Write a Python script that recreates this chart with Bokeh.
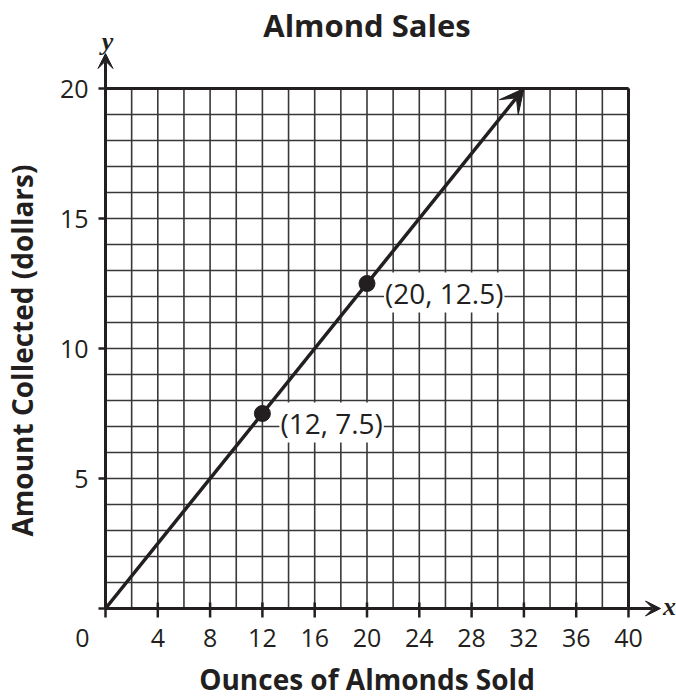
import math
from bokeh.plotting import figure
from bokeh.models import Range1d, Arrow, VeeHead, Label
from bokeh.core.properties import value
from bokeh.embed import file_html
from bokeh.resources import INLINE

# ---- data ----
title_text = "Almond Sales"
x_label = "Ounces of Almonds Sold"
y_label = "Amount Collected (dollars)"
x_ticks = [0, 4, 8, 12, 16, 20, 24, 28, 32, 36, 40]
y_ticks = [0, 5, 10, 15, 20]
grid_x = [0, 2, 4, 6, 8, 10, 12, 14, 16, 18, 20, 22, 24, 26, 28, 30, 32, 34, 36, 38, 40]
grid_y = [0, 1, 2, 3, 4, 5, 6, 7, 8, 9, 10, 11, 12, 13, 14, 15, 16, 17, 18, 19, 20]
line_x = [0, 32]
line_y = [0, 20]
points_x = [12, 20]
points_y = [7.5, 12.5]

INK = "#231f20"
GRID = "#383838"
FONT = "Open Sans"

# ---- layout (pixels) ----
W, H = 676, 696
G_LEFT, G_RIGHT, G_TOP, G_BOTTOM = 105, 628, 88, 608
X_TIP_PX = 660      # x-axis arrow tip
Y_TIP_PX = 53       # y-axis arrow tip

gx0, gx1 = grid_x[0], grid_x[-1]
gy0, gy1 = grid_y[0], grid_y[-1]
sx = (G_RIGHT - G_LEFT) / (gx1 - gx0)
sy = (G_BOTTOM - G_TOP) / (gy1 - gy0)

x_range = Range1d(gx0 - G_LEFT / sx, gx0 + (W - G_LEFT) / sx)
y_range = Range1d(gy0 - (H - G_BOTTOM) / sy, gy0 + G_BOTTOM / sy)

p = figure(width=W, height=H, x_range=x_range, y_range=y_range,
           x_axis_location=None, y_axis_location=None,
           output_backend="svg", toolbar_location=None,
           min_border=0)
p.title.visible = False
p.outline_line_color = None
p.grid.visible = False
p.background_fill_color = "white"
p.border_fill_color = "white"

# grid lines
p.segment(x0=grid_x, y0=[gy0] * len(grid_x), x1=grid_x, y1=[gy1] * len(grid_x),
          line_color=GRID, line_width=1.6)
p.segment(x0=[gx0] * len(grid_y), y0=grid_y, x1=[gx1] * len(grid_y), y1=grid_y,
          line_color=GRID, line_width=1.6)
# outer border of the grid (right and top)
p.segment(x0=[gx1, gx0], y0=[gy0, gy1], x1=[gx1, gx1], y1=[gy1, gy1],
          line_color=INK, line_width=3)

# axes with arrowheads
x_tip = gx0 + (X_TIP_PX - G_LEFT) / sx
y_tip = gy0 + (G_BOTTOM - Y_TIP_PX) / sy
p.add_layout(Arrow(end=VeeHead(size=15, fill_color=INK, line_color=INK, line_width=1),
                   x_start=gx0, y_start=gy0, x_end=x_tip, y_end=gy0,
                   line_color=INK, line_width=3))
p.add_layout(Arrow(end=VeeHead(size=15, fill_color=INK, line_color=INK, line_width=1),
                   x_start=gx0, y_start=gy0, x_end=gx0, y_end=y_tip,
                   line_color=INK, line_width=3))

# tick marks
X_TICK_IN, X_TICK_OUT = 6, 9
Y_TICK_IN, Y_TICK_OUT = 0, 7
p.segment(x0=x_ticks, y0=[gy0 - X_TICK_OUT / sy] * len(x_ticks),
          x1=x_ticks, y1=[gy0 + X_TICK_IN / sy] * len(x_ticks),
          line_color=INK, line_width=2.5)
p.segment(x0=[gx0 - Y_TICK_OUT / sx] * len(y_ticks), y0=y_ticks,
          x1=[gx0 + Y_TICK_IN / sx] * len(y_ticks), y1=y_ticks,
          line_color=INK, line_width=2.5)

# tick labels
p.text(x=x_ticks, y=[gy0] * len(x_ticks), text=[str(t) for t in x_ticks],
       x_offset=[-23 if t == 0 else 0 for t in x_ticks], y_offset=29,
       text_font=value(FONT), text_font_size=value("25px"), text_color=INK,
       text_align="center", text_baseline="middle")
y_lab = [t for t in y_ticks if t != 0]
p.text(x=[gx0] * len(y_lab), y=y_lab, text=[str(t) for t in y_lab],
       x_offset=-17, y_offset=0,
       text_font=value(FONT), text_font_size=value("25px"), text_color=INK,
       text_align="right", text_baseline="middle")

# the sales line
p.add_layout(Arrow(end=VeeHead(size=24, fill_color=INK, line_color=INK, line_width=1),
                   x_start=line_x[0], y_start=line_y[0], x_end=line_x[-1], y_end=line_y[-1],
                   line_color=INK, line_width=3.5))

p.scatter(points_x, points_y, size=16, color=INK)
for px, py in zip(points_x, points_y):
    p.add_layout(Label(x=px, y=py, text=f"({px:g}, {py:g})", x_offset=17, y_offset=-9,
                       text_font=FONT, text_font_size="28px", text_color=INK,
                       text_baseline="middle", text_align="left",
                       background_fill_color="white", padding=1))

# x and y letters
p.add_layout(Label(x=gx0, y=gy1, text="y", x_offset=2, y_offset=47,
                   text_font="Liberation Serif", text_font_style="bold italic",
                   text_font_size="26px", text_color=INK,
                   text_align="center", text_baseline="middle"))
p.add_layout(Label(x=gx1, y=gy0, text="x", x_offset=41, y_offset=2,
                   text_font="Liberation Serif", text_font_style="bold italic",
                   text_font_size="26px", text_color=INK,
                   text_align="center", text_baseline="middle"))

# titles
p.add_layout(Label(x=(gx0 + gx1) / 2, y=gy1, text=title_text, y_offset=64,
                   text_font=FONT, text_font_style="bold", text_font_size="31px",
                   text_color=INK, text_align="center", text_baseline="middle"))
p.add_layout(Label(x=(gx0 + gx1) / 2, y=gy0, text=x_label, y_offset=-70,
                   text_font=FONT, text_font_style="bold", text_font_size="28px",
                   text_color=INK, text_align="center", text_baseline="middle"))
p.add_layout(Label(x=gx0, y=(gy0 + gy1) / 2, text=y_label, x_offset=-84, y_offset=-2,
                   angle=math.pi / 2,
                   text_font=FONT, text_font_style="bold", text_font_size="28px",
                   text_color=INK, text_align="center", text_baseline="middle"))

open("out.html", "w").write(file_html(p, INLINE))
